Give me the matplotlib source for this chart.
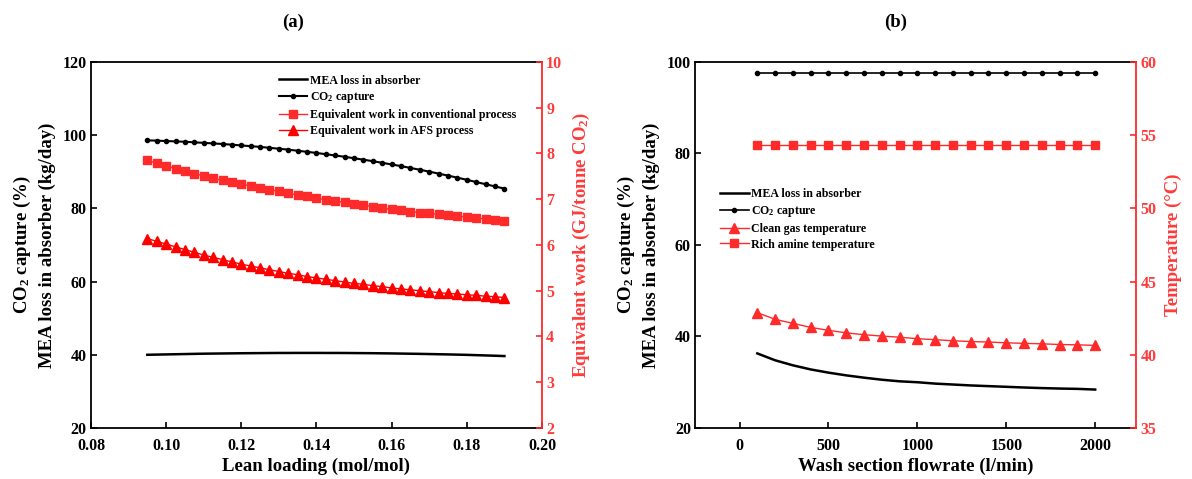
import matplotlib
matplotlib.use("Agg")
import matplotlib.pyplot as plt

plt.rcParams['font.family'] = ['Liberation Serif', 'DejaVu Serif']
plt.rcParams['font.weight'] = 'bold'
plt.rcParams['mathtext.fontset'] = 'custom'
plt.rcParams['mathtext.rm'] = 'Liberation Serif:bold'
plt.rcParams['mathtext.it'] = 'Liberation Serif:italic:bold'
plt.rcParams['mathtext.bf'] = 'Liberation Serif:bold'

# ---------------- Panel (a) data ----------------
lean_loading = [0.095, 0.0975, 0.100, 0.1025, 0.105, 0.1075, 0.110, 0.1125, 0.115, 0.1175,
                0.120, 0.1225, 0.125, 0.1275, 0.130, 0.1325, 0.135, 0.1375, 0.140, 0.1425,
                0.145, 0.1475, 0.150, 0.1525, 0.155, 0.1575, 0.160, 0.1625, 0.165, 0.1675,
                0.170, 0.1725, 0.175, 0.1775, 0.180, 0.1825, 0.185, 0.1875, 0.190]
mea_loss_a = [40.0, 40.05, 40.1, 40.15, 40.2, 40.25, 40.3, 40.33, 40.36, 40.39,
              40.42, 40.44, 40.46, 40.48, 40.5, 40.5, 40.51, 40.51, 40.51, 40.5,
              40.5, 40.49, 40.47, 40.45, 40.43, 40.4, 40.37, 40.33, 40.29, 40.25,
              40.2, 40.15, 40.1, 40.04, 39.98, 39.9, 39.82, 39.74, 39.65]
co2_capture_a = [98.6, 98.5, 98.4, 98.3, 98.2, 98.05, 97.9, 97.75, 97.6, 97.4,
                 97.2, 97.0, 96.8, 96.55, 96.3, 96.05, 95.75, 95.45, 95.15, 94.8,
                 94.45, 94.1, 93.7, 93.3, 92.9, 92.45, 92.0, 91.55, 91.05, 90.55,
                 90.05, 89.5, 88.95, 88.4, 87.8, 87.2, 86.6, 86.0, 85.4]
work_conv = [7.85, 7.79, 7.73, 7.67, 7.61, 7.56, 7.51, 7.46, 7.41, 7.37,
             7.33, 7.29, 7.25, 7.21, 7.17, 7.13, 7.09, 7.06, 7.02, 6.99,
             6.96, 6.93, 6.90, 6.87, 6.84, 6.81, 6.78, 6.76, 6.73, 6.71,
             6.69, 6.67, 6.65, 6.63, 6.61, 6.59, 6.57, 6.55, 6.53]
work_afs = [6.14, 6.08, 6.02, 5.96, 5.90, 5.84, 5.78, 5.73, 5.68, 5.63,
            5.58, 5.54, 5.50, 5.46, 5.42, 5.38, 5.35, 5.31, 5.28, 5.25,
            5.22, 5.19, 5.16, 5.14, 5.11, 5.09, 5.06, 5.04, 5.02, 5.00,
            4.98, 4.96, 4.94, 4.93, 4.91, 4.90, 4.88, 4.87, 4.85]

# ---------------- Panel (b) data ----------------
wash_flow = [100, 200, 300, 400, 500, 600, 700, 800, 900, 1000,
             1100, 1200, 1300, 1400, 1500, 1600, 1700, 1800, 1900, 2000]
mea_loss_b = [36.3, 34.8, 33.7, 32.8, 32.1, 31.5, 31.0, 30.55, 30.2, 30.0,
              29.7, 29.5, 29.3, 29.15, 29.0, 28.85, 28.72, 28.62, 28.55, 28.4]
co2_capture_b = [97.5] * 20
clean_gas_temp = [42.88, 42.42, 42.15, 41.87, 41.67, 41.5, 41.37, 41.28, 41.2, 41.1,
                  41.03, 40.96, 40.9, 40.87, 40.82, 40.78, 40.75, 40.7, 40.68, 40.64]
rich_amine_temp = [54.3] * 20

RED = '#FF2A2A'
RED_TXT = '#FF3B3B'
LBL = 13.5
TCK = 11.5

fig = plt.figure(figsize=(11.92, 4.79), dpi=100)

def style_axes(ax, ax2):
    for sp in ['left', 'bottom', 'top']:
        ax.spines[sp].set_linewidth(1.3)
    ax.spines['right'].set_visible(False)
    ax2.spines['right'].set_color(RED)
    ax2.spines['right'].set_linewidth(1.3)
    for sp in ['left', 'bottom', 'top']:
        ax2.spines[sp].set_visible(False)
    ax.tick_params(axis='y', direction='in', length=4, width=1.2, labelsize=TCK,
                   right=False, pad=3)
    ax.tick_params(axis='x', direction='in', length=4, width=1.2, labelsize=TCK,
                   top=False, pad=7)
    ax2.tick_params(axis='y', direction='in', length=4, width=1.2, labelsize=TCK,
                    colors=RED, labelcolor=RED_TXT, pad=3)
    for lab in ax.get_xticklabels() + ax.get_yticklabels() + ax2.get_yticklabels():
        lab.set_fontweight('bold')

# ---------- (a) ----------
axa = fig.add_axes([0.0763, 0.1065, 0.3784, 0.7641])
axa2 = axa.twinx()
l1, = axa.plot(lean_loading, mea_loss_a, color='black', lw=1.8, label='MEA loss in absorber')
l2, = axa.plot(lean_loading, co2_capture_a, color='black', lw=1.5, marker='o', ms=3,
               label='CO$_2$ capture')
l3, = axa2.plot(lean_loading, work_conv, color=RED, lw=1.0, marker='s', ms=5.5, mec=RED, mfc=RED,
                label='Equivalent work in conventional process')
l4, = axa2.plot(lean_loading, work_afs, color='red', lw=1.0, marker='^', ms=7, mec='red', mfc='red',
                label='Equivalent work in AFS process')
axa.set_xlim(0.08, 0.20)
axa.set_ylim(20, 120)
axa2.set_ylim(2, 10)
axa.set_xticks([0.08, 0.10, 0.12, 0.14, 0.16, 0.18, 0.20])
axa.set_xticklabels(['0.08', '0.10', '0.12', '0.14', '0.16', '0.18', '0.20'])
axa.set_yticks([20, 40, 60, 80, 100, 120])
axa2.set_yticks([2, 3, 4, 5, 6, 7, 8, 9, 10])
style_axes(axa, axa2)
axa.set_xlabel('Lean loading (mol/mol)', fontsize=LBL, fontweight='bold', labelpad=3)
axa.set_ylabel('CO$_2$ capture (%)\nMEA loss in absorber (kg/day)', fontsize=LBL,
               fontweight='bold', linespacing=1.4, labelpad=5)
axa2.set_ylabel('Equivalent work (GJ/tonne CO$_2$)', fontsize=LBL, fontweight='bold',
                color=RED_TXT, labelpad=6)
axa.legend(handles=[l1, l2, l3, l4], loc='upper left', bbox_to_anchor=(0.4, 0.985),
           frameon=False, handlelength=2.4, handletextpad=0.2,
           labelspacing=0.32, borderaxespad=0.2, prop={'weight': 'bold', 'size': 8.6})
fig.text(0.246, 0.954, '(a)', ha='center', va='center', fontsize=13.5, fontweight='bold')

# ---------- (b) ----------
axb = fig.add_axes([0.5831, 0.1065, 0.3700, 0.7641])
axb2 = axb.twinx()
m1, = axb.plot(wash_flow, mea_loss_b, color='black', lw=1.8, label='MEA loss in absorber')
m2, = axb.plot(wash_flow, co2_capture_b, color='black', lw=1.2, marker='o', ms=3,
               label='CO$_2$ capture')
m3, = axb2.plot(wash_flow, clean_gas_temp, color=RED, lw=1.0, marker='^', ms=7, mec=RED, mfc=RED,
                label='Clean gas temperature')
m4, = axb2.plot(wash_flow, rich_amine_temp, color=RED, lw=1.0, marker='s', ms=5.5, mec=RED, mfc=RED,
                label='Rich amine temperature')
axb.set_xlim(-250, 2230)
axb.set_ylim(20, 100)
axb2.set_ylim(35, 60)
axb.set_xticks([0, 500, 1000, 1500, 2000])
axb.set_yticks([20, 40, 60, 80, 100])
axb2.set_yticks([35, 40, 45, 50, 55, 60])
style_axes(axb, axb2)
axb.set_xlabel('Wash section flowrate (l/min)', fontsize=LBL, fontweight='bold', labelpad=3)
axb.set_ylabel('CO$_2$ capture (%)\nMEA loss in absorber (kg/day)', fontsize=LBL,
               fontweight='bold', linespacing=1.4, labelpad=5)
axb2.set_ylabel('Temperature (°C)', fontsize=LBL, fontweight='bold', color=RED_TXT, labelpad=6)
axb.legend(handles=[m1, m2, m3, m4], loc='upper left', bbox_to_anchor=(0.04, 0.675),
           frameon=False, handlelength=2.4, handletextpad=0.2,
           labelspacing=0.32, borderaxespad=0.2, prop={'weight': 'bold', 'size': 8.6})
fig.text(0.751, 0.954, '(b)', ha='center', va='center', fontsize=13.5, fontweight='bold')

fig.savefig('out.png', dpi=100)
